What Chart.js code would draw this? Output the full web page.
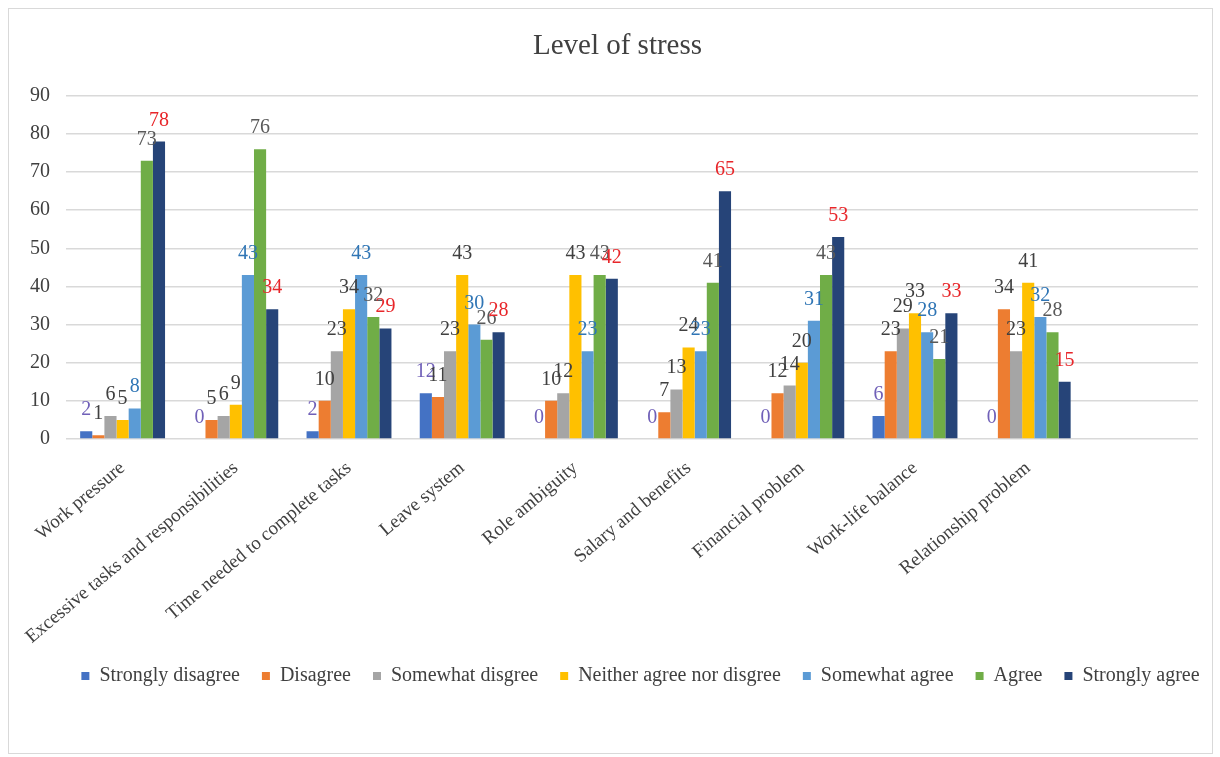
<!DOCTYPE html>
<html>
<head>
<meta charset="utf-8">
<script src="https://cdn.jsdelivr.net/npm/chart.js@4/dist/chart.umd.min.js"></script>
<style>
  body { margin: 0; background: #fff; }
  #frame { position: absolute; left: 8px; top: 8px; width: 1203px; height: 744px; border: 1px solid #d9d9d9; background: #fff; }
</style>
</head>
<body>
<div id="frame"><canvas id="stressChart"></canvas></div>
<script>
// categories (last one is the empty slot Excel left on the axis)
var categories = ['Work pressure', 'Excessive tasks and responsibilities', 'Time needed to complete tasks',
  'Leave system', 'Role ambiguity', 'Salary and benefits', 'Financial problem', 'Work-life balance',
  'Relationship problem', ''];

var seriesNames = ['Strongly disagree', 'Disagree', 'Somewhat disgree', 'Neither agree nor disgree',
  'Somewhat agree', 'Agree', 'Strongly agree'];

// values per series, one per category
var stronglyDisagree = [2, 0, 2, 12, 0, 0, 0, 6, 0];
var disagree         = [1, 5, 10, 11, 10, 7, 12, 23, 34];
var somewhatDisagree = [6, 6, 23, 23, 12, 13, 14, 29, 23];
var neither          = [5, 9, 34, 43, 43, 24, 20, 33, 41];
var somewhatAgree    = [8, 43, 43, 30, 23, 23, 31, 28, 32];
var agree            = [73, 76, 32, 26, 43, 41, 43, 21, 28];
var stronglyAgree    = [78, 34, 29, 28, 42, 65, 53, 33, 15];

var yTicks = [0, 10, 20, 30, 40, 50, 60, 70, 80, 90];

var barColors   = ['#4472c4', '#ed7d31', '#a5a5a5', '#ffc000', '#5b9bd5', '#70ad47', '#264478'];
var labelColors = ['#7060b8', '#404040', '#404040', '#404040', '#2f75b5', '#595959', '#e8262a'];

var serif = "'Liberation Serif', 'Times New Roman', serif";

var allValues = [stronglyDisagree, disagree, somewhatDisagree, neither, somewhatAgree, agree, stronglyAgree];
var datasets = [];
for (var i = 0; i < seriesNames.length; i++) {
  datasets.push({
    label: seriesNames[i],
    data: allValues[i],
    backgroundColor: barColors[i],
    borderWidth: 0,
    barPercentage: 1.0,
    categoryPercentage: 0.75
  });
}

// draws the value above each bar, coloured per series
var valueLabels = {
  id: 'valueLabels',
  afterDatasetsDraw: function(chart) {
    var ctx = chart.ctx;
    ctx.save();
    ctx.font = '20px ' + serif;
    ctx.textAlign = 'center';
    ctx.textBaseline = 'alphabetic';
    chart.data.datasets.forEach(function(ds, di) {
      var meta = chart.getDatasetMeta(di);
      ctx.fillStyle = labelColors[di];
      meta.data.forEach(function(bar, idx) {
        var v = ds.data[idx];
        if (v === null || v === undefined) return;
        ctx.fillText(String(v), bar.x, bar.y - 16);
      });
    });
    ctx.restore();
  }
};

// title and legend in the original sit a little right of centre
var nudge = {
  id: 'nudge',
  afterLayout: function(chart) {
    chart.legend.left += 37;
    chart.legend.right += 37;
    chart.titleBlock.left += 14;
    chart.titleBlock.right += 14;
  }
};

new Chart(document.getElementById('stressChart'), {
  type: 'bar',
  data: { labels: categories, datasets: datasets },
  plugins: [valueLabels, nudge],
  options: {
    responsive: true,
    maintainAspectRatio: false,
    animation: false,
    layout: { padding: { left: 0, right: 14, top: 0, bottom: 57 } },
    plugins: {
      title: {
        display: true,
        text: 'Level of stress',
        color: '#404040',
        font: { family: serif, size: 29, weight: 'normal' },
        padding: { top: 20, bottom: 32 }
      },
      legend: {
        position: 'bottom',
        labels: {
          boxWidth: 8,
          boxHeight: 8,
          padding: 22,
          color: '#404040',
          font: { family: serif, size: 20 }
        }
      },
      tooltip: { enabled: false }
    },
    scales: {
      x: {
        grid: { display: false },
        border: { display: false },
        ticks: {
          autoSkip: false,
          maxRotation: 40,
          minRotation: 40,
          padding: 10,
          color: '#404040',
          font: { family: serif, size: 19 }
        },
        afterFit: function(scale) { scale.height = 205; }
      },
      y: {
        min: 0,
        max: 90,
        afterBuildTicks: function(scale) {
          scale.ticks = yTicks.map(function(v) { return { value: v }; });
        },
        grid: { color: '#d9d9d9', lineWidth: 1.5, drawTicks: false },
        border: { display: false },
        ticks: {
          padding: 16,
          color: '#404040',
          font: { family: serif, size: 20 }
        },
        afterFit: function(scale) { scale.width = 57; }
      }
    }
  }
});
</script>
</body>
</html>
